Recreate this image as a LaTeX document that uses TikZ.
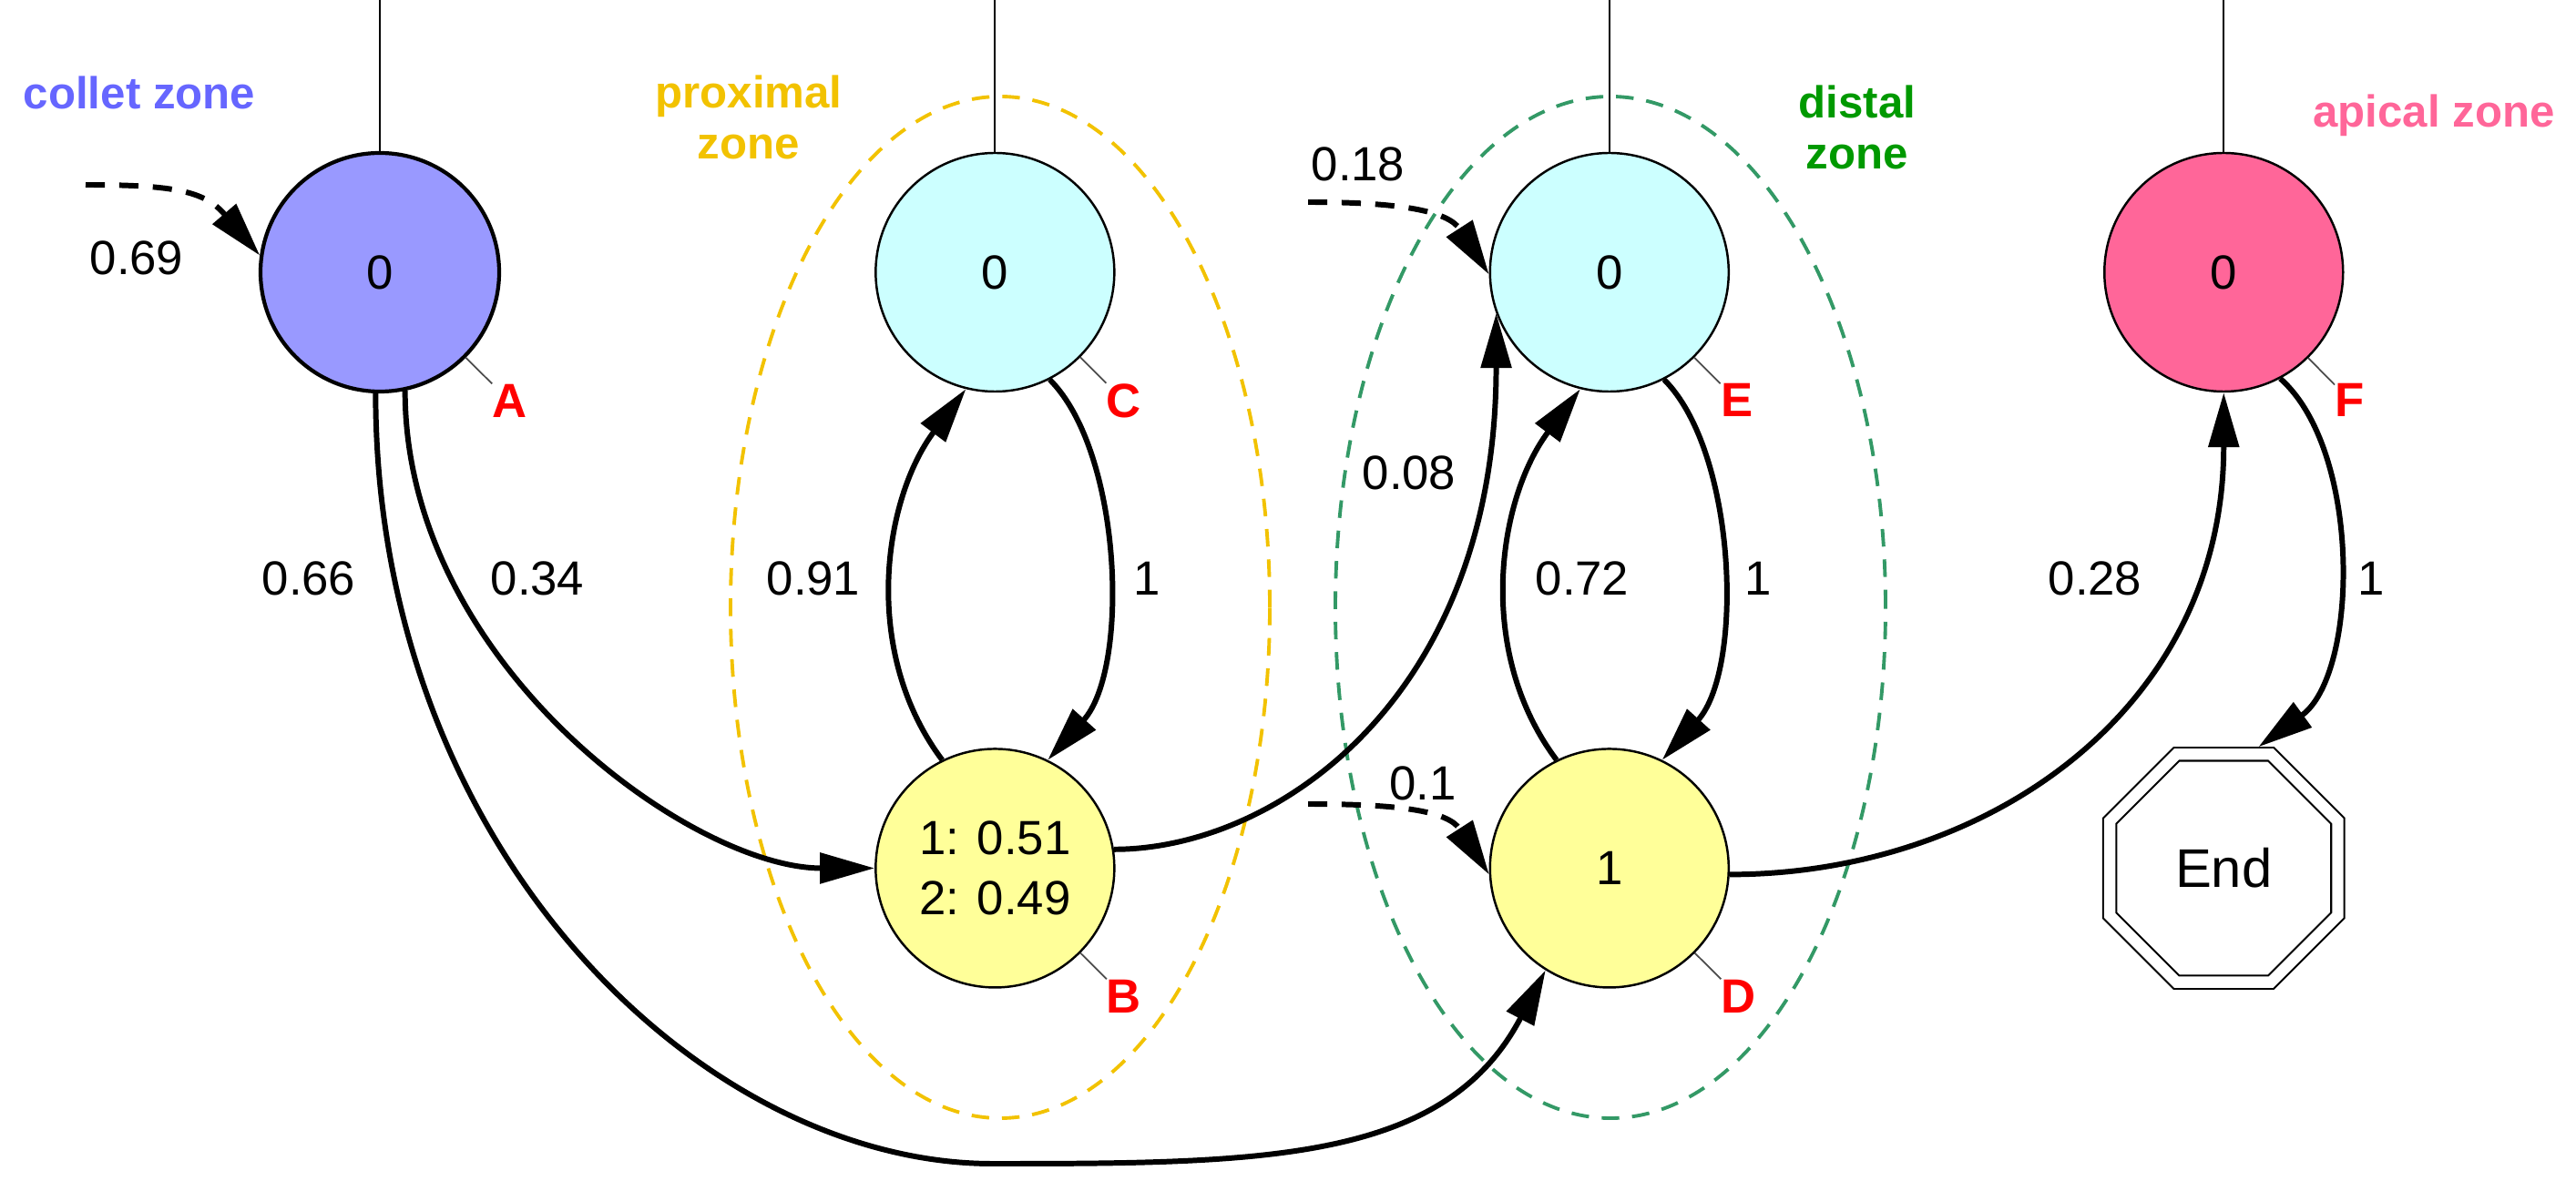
\documentclass[tikz,border=0pt]{standalone}
\usepackage{fontspec}
\setmainfont{Liberation Sans}
\usetikzlibrary{positioning, arrows.meta, shapes.geometric}

\definecolor{colletblue}{HTML}{9999FF}
\definecolor{collettext}{HTML}{6666FF}
\definecolor{paleblue}{HTML}{CCFFFF}
\definecolor{paleyellow}{HTML}{FFFF99}
\definecolor{apicpink}{HTML}{FF6699}
\definecolor{proxgold}{HTML}{F2C200}
\definecolor{disttext}{HTML}{009900}
\definecolor{distline}{HTML}{339966}

\begin{document}
\begin{tikzpicture}[pin distance = .4cm]
  \tikzstyle{state}=[circle, draw, line width = .7pt, minimum size = 2.62cm, inner sep = 0,
    font=\fontsize{15}{19}\selectfont, align=center]
  \tikzstyle{tag}=[text=red, font=\bfseries\fontsize{15}{18}\selectfont, inner sep = 0]
  \tikzstyle{every pin edge}=[draw=gray!60!black, line width = .5pt]
  \tikzstyle{stop}=[regular polygon, regular polygon sides=8, draw, double, double distance = 3.5pt,
    line width = .6pt, minimum size = 2.71cm, inner sep = 0, outer sep = 2.3pt, font=\fontsize{17}{20}\selectfont]
  \tikzstyle{zone}=[ellipse, draw, line width = 1.1pt, dash pattern = on 5.5pt off 4pt, inner sep = 0]
  \tikzstyle{zonetext}=[font=\bfseries\fontsize{14}{16}\selectfont, inner sep = 0, align=center]
  \tikzstyle{trans}=[-{Triangle[length=.6cm, width=.33cm]}, line width = 1.7pt]
  \tikzstyle{entry}=[trans, dash pattern = on 6pt off 4.5pt]
  \tikzstyle{wlabel}=[font=\fontsize{15}{18}\selectfont, inner sep = 0]
  \tikzstyle{stem}=[line width = .6pt]

  \useasboundingbox (0, 0) rectangle (28.28, -12.97);
  \coordinate (top) at (0, 0);

  \node [zone, draw=proxgold, minimum width = 5.92cm, minimum height = 11.22cm] (Z-prox) at (10.98, -6.67) {};
  \node [zone, draw=distline, minimum width = 6.04cm, minimum height = 11.22cm] (Z-dist) at (17.68, -6.67) {};

  \node [state, fill=colletblue, line width = 1.2pt, pin={[tag]-45:A}] (A) at (4.17, -2.99) {0};
  \node [state, fill=paleblue, right = 4.1 of A, pin={[tag]-45:C}] (C) {0};
  \node [state, fill=paleblue, right = 4.1 of C, pin={[tag]-45:E}] (E) {0};
  \node [state, fill=apicpink, right = 4.1 of E, pin={[tag]-45:F}] (F) {0};
  \node [state, fill=paleyellow, below = 3.9 of C, pin={[tag]-45:B}] (B) {1: 0.51\\2: 0.49};
  \node [state, fill=paleyellow, below = 3.9 of E, pin={[tag]-45:D}] (D) {1};
  \node [stop] (End) at (F |- D) {End};

  \node [zonetext, text=collettext, anchor=base] (T-collet) at (1.53, -1.20) {collet zone};
  \node [zonetext, text=proxgold, anchor=north] (T-prox) at (8.22, -.82) {proximal\\zone};
  \node [zonetext, text=disttext, anchor=north] (T-dist) at (20.39, -.93) {distal\\zone};
  \node [zonetext, text=apicpink, anchor=base] (T-apic) at (26.72, -1.40) {apical zone};

  \draw [stem] (A) -- (A |- top);
  \draw [stem] (C) -- (C |- top);
  \draw [stem] (E) -- (E |- top);
  \draw [stem] (F) -- (F |- top);

  \coordinate (in-A) at (.94, -2.03);
  \coordinate (in-E) at (14.36, -2.22);
  \coordinate (in-D) at (14.36, -8.83);
  \coordinate (AD-low) at (10.9, -12.78);

  \draw [entry] (in-A) .. controls +(1, 0) and +(-.6, .7) .. (A.172);
  \draw [entry] (in-E) .. controls +(1, 0) and +(-.45, .7) .. (E.181);
  \draw [entry] (in-D) .. controls +(1, 0) and +(-.45, .7) .. (D.183);

  \draw [trans] (A.-78) .. controls +(0, -3) and +(-2, 0) .. (B.west);
  \draw [trans] (A.-92) .. controls +(0, -5) and +(-3.2, 0) .. (AD-low)
    .. controls +(3, 0) and +(-1.1, -2.1) .. (D.238);
  \draw [trans] (C.-63) .. controls +(.8, -.8) and +(.9, 1) .. (B.64);
  \draw [trans] (B.116) .. controls +(-.9, 1.2) and +(-.9, -1.2) .. (C.-104);
  \draw [trans] (B.9) .. controls +(1.8, 0) and +(0, -4.2) .. (E.200);
  \draw [trans] (E.-63) .. controls +(.8, -.8) and +(.9, 1) .. (D.64);
  \draw [trans] (D.116) .. controls +(-.9, 1.2) and +(-.9, -1.2) .. (E.-104);
  \draw [trans] (D.-3) .. controls +(2.8, 0) and +(0, -3.5) .. (F.south);
  \draw [trans] (F.-62) .. controls +(.9, -.8) and +(1.1, .8) .. (End.74);

  \node [wlabel] (W-in-A) at (1.50, -2.83) {0.69};
  \node [wlabel] (W-in-E) at (14.91, -1.80) {0.18};
  \node [wlabel] (W-in-D) at (15.62, -8.60) {0.1};
  \node [wlabel] (W-AD) at (3.39, -6.35) {0.66};
  \node [wlabel] (W-AB) at (5.90, -6.35) {0.34};
  \node [wlabel] (W-BC) at (8.93, -6.35) {0.91};
  \node [wlabel] (W-CB) at (12.59, -6.35) {1};
  \node [wlabel] (W-BE) at (15.47, -5.19) {0.08};
  \node [wlabel] (W-DE) at (17.37, -6.35) {0.72};
  \node [wlabel] (W-ED) at (19.30, -6.35) {1};
  \node [wlabel] (W-DF) at (23.00, -6.35) {0.28};
  \node [wlabel] (W-FE) at (26.03, -6.35) {1};
\end{tikzpicture}
\end{document}
